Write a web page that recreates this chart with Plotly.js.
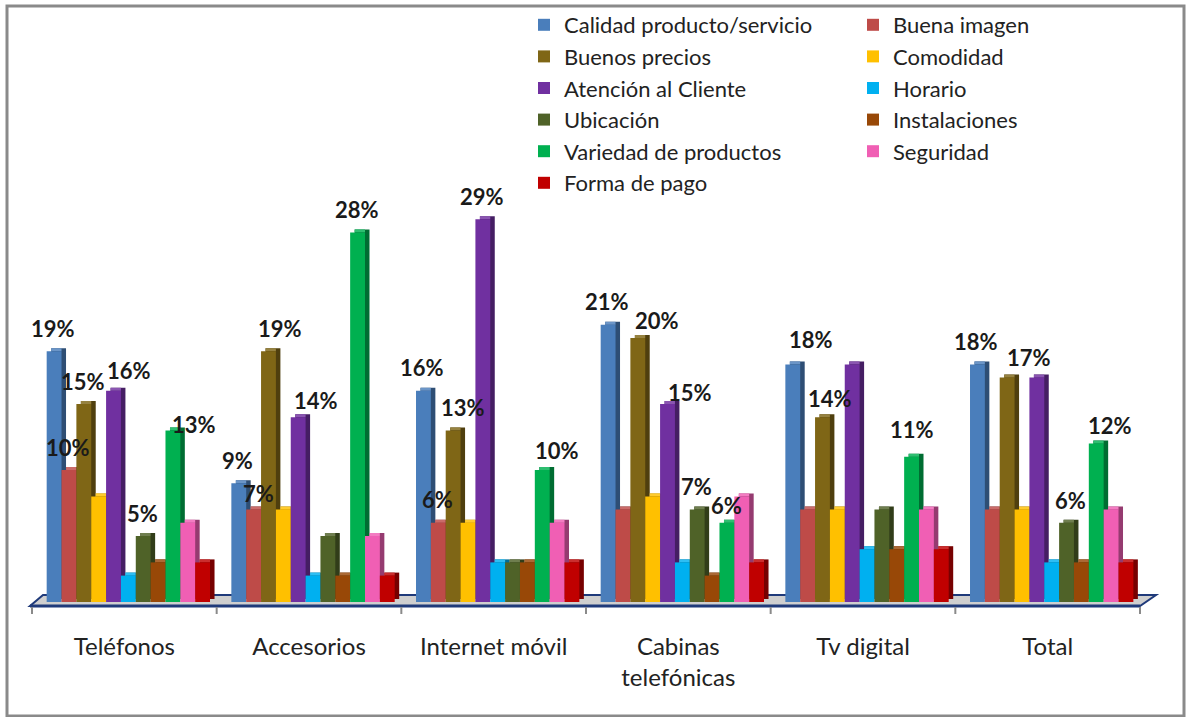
<!DOCTYPE html>
<html>
<head>
<meta charset="utf-8">
<script src="https://cdn.plot.ly/plotly-3.0.1.min.js"></script>
<style>
  html, body { margin: 0; padding: 0; background: #ffffff; }
  #chart { width: 1187px; height: 717px; }
</style>
</head>
<body>
<div id="chart"></div>
<script>
// Categories (canales) and their axis labels
const categories = ['Teléfonos', 'Accesorios', 'Internet móvil', 'Cabinas telefónicas', 'Tv digital', 'Total'];
const tickLabels = ['Teléfonos', 'Accesorios', 'Internet móvil', 'Cabinas<br>telefónicas', 'Tv digital', 'Total'];

// Percentage of mentions per reason, one array per series
const calidad       = [19,  9, 16, 21, 18, 18];
const buenaImagen   = [10,  7,  6,  7,  7,  7];
const buenosPrecios = [15, 19, 13, 20, 14, 17];
const comodidad     = [ 8,  7,  6,  8,  7,  7];
const atencion      = [16, 14, 29, 15, 18, 17];
const horario       = [ 2,  2,  3,  3,  4,  3];
const ubicacion     = [ 5,  5,  3,  7,  7,  6];
const instalaciones = [ 3,  2,  3,  2,  4,  3];
const variedad      = [13, 28, 10,  6, 11, 12];
const seguridad     = [ 6,  5,  6,  8,  7,  7];
const formaPago     = [ 3,  2,  3,  3,  4,  3];

const seriesNames = ['Calidad producto/servicio', 'Buena imagen', 'Buenos precios', 'Comodidad',
  'Atención al Cliente', 'Horario', 'Ubicación', 'Instalaciones', 'Variedad de productos',
  'Seguridad', 'Forma de pago'];
const seriesValues = [calidad, buenaImagen, buenosPrecios, comodidad, atencion, horario,
  ubicacion, instalaciones, variedad, seguridad, formaPago];

// Which bars carry a value label: per category, the indices of the labelled series
const labelledSeries = [
  [0, 1, 2, 4, 6, 8],
  [0, 1, 2, 4, 8],
  [0, 1, 2, 4, 8],
  [0, 2, 4, 6, 8],
  [0, 2, 8],
  [0, 2, 6, 8]
];

// ---- styling ----
const colors = ['#4A7EBB', '#BE4B48', '#7F6616', '#FFC000', '#7030A0', '#00B0F0',
  '#4F6228', '#984807', '#00B050', '#F05FB4', '#C00000'];
const FONT = 'Lato, "Open Sans", sans-serif';

// Plot area geometry in pixels
const W = 1187, H = 717;
const L = 32, R = 1140, BASE = 602, TOP = 100;
const pxPerCat = (R - L) / categories.length;
const pxPerUnit = 13.2;
const yMax = (BASE - TOP) / pxPerUnit;

// Bar layout within each category (in category units)
const barStart = -0.4205;
const barW = 14.85 / pxPerCat;
const depthX = 4.5 / pxPerCat;      // extrusion to the right
const depthY = 3 / pxPerUnit;       // extrusion upwards

function shade(hex, f) {
  const n = parseInt(hex.slice(1), 16);
  const r = Math.round(((n >> 16) & 255) * f), g = Math.round(((n >> 8) & 255) * f), b = Math.round((n & 255) * f);
  return `rgb(${r},${g},${b})`;
}
function tint(hex, t) {
  const n = parseInt(hex.slice(1), 16);
  const c = [(n >> 16) & 255, (n >> 8) & 255, n & 255].map(v => Math.round(v + (255 - v) * t));
  return `rgb(${c[0]},${c[1]},${c[2]})`;
}

const traces = [];
seriesValues.forEach((vals, i) => {
  const off = barStart + i * barW;
  // side face (darker), shifted right and up
  traces.push({
    type: 'bar', x: categories, y: vals, base: depthY, offset: off + depthX, width: barW,
    marker: { color: shade(colors[i], 0.62), line: { width: 0 } },
    showlegend: false, hoverinfo: 'skip'
  });
  // top cap (lighter)
  traces.push({
    type: 'bar', x: categories, y: vals.map(() => depthY), base: vals, offset: off + depthX, width: barW - depthX,
    marker: { color: tint(colors[i], 0.18), line: { width: 0 } },
    showlegend: false, hoverinfo: 'skip'
  });
  // front face
  traces.push({
    type: 'bar', name: seriesNames[i], x: categories, y: vals, offset: off, width: barW,
    marker: { color: colors[i], line: { width: 0 } },
    legend: i % 2 === 0 ? 'legend' : 'legend2',
    hovertemplate: '%{x}<br>' + seriesNames[i] + ': %{y}%<extra></extra>'
  });
});

// Small label nudges (px) so neighbouring value labels do not collide
const labelNudge = {
  '0-4': [15, 20], '0-8': [21, 6],
  '1-1': [5, 16], '1-2': [12, 23], '1-4': [18, 17],
  '2-2': [10, 23], '2-8': [15, 20],
  '3-2': [19, 18], '3-4': [22, 12], '3-8': [0, 17],
  '4-0': [18, 25], '4-2': [8, 19], '4-8': [0, 27],
  '5-2': [22, 20], '5-6': [4, 22], '5-8': [14, 18]
};

const annotations = [];
labelledSeries.forEach((list, c) => {
  list.forEach(s => {
    const v = seriesValues[s][c];
    const nudge = labelNudge[c + '-' + s] || [-1, 23];
    annotations.push({
      x: c + barStart + (s + 0.5) * barW, xref: 'x',
      y: v, yref: 'y',
      text: v + '%', showarrow: false,
      xanchor: 'center', yanchor: 'middle',
      xshift: nudge[0], yshift: nudge[1],
      font: { family: FONT, size: 22, color: '#1a1a1a', weight: 'bold' }
    });
  });
});

// pixel -> paper helpers for the decorative floor and frame
const px = v => (v - L) / (R - L);
const py = v => (BASE - v) / (BASE - TOP);

const shapes = [
  // outer frame
  { type: 'rect', xref: 'paper', yref: 'paper', x0: px(7), x1: px(1184), y0: py(716), y1: py(6),
    line: { color: '#8a8a8a', width: 3 }, fillcolor: 'rgba(0,0,0,0)', layer: 'below' },
  // floor platform
  { type: 'path', xref: 'paper', yref: 'paper', layer: 'below',
    path: `M${px(30)},${py(606)} L${px(1140)},${py(606)} L${px(1156)},${py(595)} L${px(43)},${py(595)} Z`,
    fillcolor: '#cfcfcf', line: { color: '#1f3a7a', width: 2 } },
  { type: 'line', xref: 'paper', yref: 'paper', layer: 'below',
    x0: px(30), x1: px(1140), y0: py(606), y1: py(606), line: { color: '#1f3a7a', width: 3 } }
];
for (let k = 0; k <= categories.length; k++) {
  const xpx = L + k * pxPerCat;
  shapes.push({ type: 'line', xref: 'paper', yref: 'paper', layer: 'below',
    x0: px(xpx), x1: px(xpx), y0: py(607), y1: py(614), line: { color: '#8a8a8a', width: 2 } });
}

const legendFont = { family: FONT, size: 22, color: '#222222' };
const layout = {
  width: W, height: H,
  margin: { l: L, r: W - R, t: TOP, b: H - BASE, autoexpand: false },
  paper_bgcolor: '#ffffff', plot_bgcolor: 'rgba(0,0,0,0)',
  barmode: 'overlay',
  xaxis: {
    type: 'category', range: [-0.5, categories.length - 0.5],
    tickvals: categories, ticktext: tickLabels,
    showgrid: false, zeroline: false, showline: false, ticks: '',
    ticklabelstandoff: 28,
    tickfont: { family: FONT, size: 24, color: '#222222' }, fixedrange: true
  },
  yaxis: { range: [0, yMax], visible: false, fixedrange: true },
  legend: {
    x: px(524), xanchor: 'left', y: py(4), yanchor: 'top',
    font: legendFont, bgcolor: 'rgba(0,0,0,0)', tracegroupgap: 0, traceorder: 'normal'
  },
  legend2: {
    x: px(853), xanchor: 'left', y: py(4), yanchor: 'top',
    font: legendFont, bgcolor: 'rgba(0,0,0,0)', tracegroupgap: 0, traceorder: 'normal'
  },
  shapes: shapes,
  annotations: annotations,
  showlegend: true
};

Plotly.newPlot('chart', traces, layout, { displayModeBar: false, staticPlot: true });
</script>
</body>
</html>
